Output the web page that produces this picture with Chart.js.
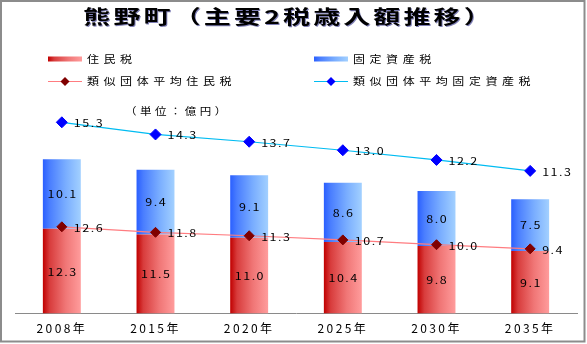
<!DOCTYPE html>
<html lang="ja">
<head>
<meta charset="utf-8">
<title>熊野町（主要2税歳入額推移）</title>
<script src="https://cdn.jsdelivr.net/npm/chart.js@4/dist/chart.umd.min.js"></script>
<style>
  html, body { margin: 0; padding: 0; background: #fff; }
  #wrap { width: 587px; height: 344px; position: relative; }
  canvas { display: block; }
</style>
</head>
<body>
<div id="wrap"><canvas id="c" width="587" height="344"></canvas></div>
<script>
// ---- data ----
const chartTitle = '熊野町（主要2税歳入額推移）';
const unitLabel = '（単位：億円）';
const categories = ['2008年', '2015年', '2020年', '2025年', '2030年', '2035年'];
const seriesNames = ['住民税', '固定資産税', '類似団体平均住民税', '類似団体平均固定資産税'];
const residentTax = [12.3, 11.5, 11.0, 10.4, 9.8, 9.1];
const propertyTax = [10.1, 9.4, 9.1, 8.6, 8.0, 7.5];
const avgResidentTax = [12.6, 11.8, 11.3, 10.7, 10.0, 9.4];
const avgPropertyTax = [15.3, 14.3, 13.7, 13.0, 12.2, 11.3];

// ---- styling ----
const FONT = '"Noto Sans CJK JP", "Noto Sans CJK SC", sans-serif';
const BAR_PCT = 0.405;
const redStops = [[0, '#c00000'], [0.18, '#d83c3c'], [0.6, '#f07676'], [1, '#ff9c9c']];
const blueStops = [[0, '#2a5fff'], [0.18, '#4a7eff'], [0.6, '#79adff'], [1, '#a2d0ff']];
const redLine = '#ff7c80', redMark = '#800000';
const blueLine = '#00bcf2', blueMark = '#0000ff';

function makeGradient(ctx, x0, x1, stops) {
  const g = ctx.createLinearGradient(x0, 0, x1, 0);
  stops.forEach(([o, c]) => g.addColorStop(o, c));
  return g;
}
function barFill(stops) {
  return (c) => {
    const chart = c.chart, xs = chart.scales && chart.scales.x;
    if (!xs || c.dataIndex === undefined || !chart.chartArea) return stops[2][1];
    const cx = xs.getPixelForValue(c.dataIndex);
    const w = xs.width / categories.length * BAR_PCT;
    return makeGradient(chart.ctx, cx - w / 2, cx + w / 2, stops);
  };
}

function txt(ctx, s, x, y, o) {
  const size = o.size || 11, sx = o.sx || 1, ls = o.ls || 0;
  ctx.save();
  ctx.font = (o.weight || 'normal') + ' ' + size + 'px ' + FONT;
  ctx.letterSpacing = ls + 'px';
  ctx.textBaseline = 'middle';
  ctx.textAlign = 'left';
  ctx.fillStyle = o.color || '#000';
  const w = (ctx.measureText(s).width - ls) * sx;
  let left = x;
  if (o.align === 'center') left = x - w / 2;
  else if (o.align === 'right') left = x - w;
  if (o.shadow) {
    ctx.shadowColor = o.shadow; ctx.shadowOffsetX = 1; ctx.shadowOffsetY = 1; ctx.shadowBlur = 0;
  }
  ctx.translate(left, y);
  ctx.scale(sx, 1);
  ctx.fillText(s, 0, 0);
  ctx.restore();
}
function diamond(ctx, x, y, r, color) {
  ctx.save();
  ctx.fillStyle = color;
  ctx.beginPath();
  ctx.moveTo(x, y - r); ctx.lineTo(x + r, y); ctx.lineTo(x, y + r); ctx.lineTo(x - r, y);
  ctx.closePath(); ctx.fill();
  ctx.restore();
}

const decorPlugin = {
  id: 'decor',
  beforeDraw(chart) {
    chart.ctx.letterSpacing = '2.4px';
  },
  afterDatasetsDraw(chart) {
    const ctx = chart.ctx;
    // bar segment labels
    [0, 1].forEach(di => {
      const meta = chart.getDatasetMeta(di);
      const vals = chart.data.datasets[di].data;
      meta.data.forEach((el, i) => {
        const p = el.getProps(['x', 'y', 'base'], true);
        txt(ctx, vals[i].toFixed(1), p.x, (p.y + p.base) / 2 + 0.5, { size: 10, sx: 1.25, ls: 1.2, align: 'center' });
      });
    });
    // line point labels
    [2, 3].forEach(di => {
      const meta = chart.getDatasetMeta(di);
      const vals = chart.data.datasets[di].data;
      meta.data.forEach((el, i) => {
        const p = el.getProps(['x', 'y'], true);
        txt(ctx, vals[i].toFixed(1), p.x + 12, p.y + 1, { size: 10, sx: 1.25, ls: 1.2 });
      });
    });
  },
  afterDraw(chart) {
    const ctx = chart.ctx;
    ctx.letterSpacing = '0px';
    // title
    txt(ctx, chartTitle, 287, 17, { size: 19, weight: 'bold', sx: 1.42, ls: 2.2, align: 'center', shadow: 'rgba(20,20,120,0.55)' });
    // legend
    const ds = chart.data.datasets;
    const rows = [59, 81.5];
    const cols = [48, 314];
    // bar swatches
    ctx.fillStyle = makeGradient(ctx, cols[0], cols[0] + 34, redStops);
    ctx.fillRect(cols[0], rows[0] - 2.5, 34, 5);
    ctx.fillStyle = makeGradient(ctx, cols[1], cols[1] + 34, blueStops);
    ctx.fillRect(cols[1], rows[0] - 2.5, 34, 5);
    txt(ctx, ds[0].label, cols[0] + 39, rows[0], { size: 10, sx: 1.2, ls: 3.8 });
    txt(ctx, ds[1].label, cols[1] + 39, rows[0], { size: 10, sx: 1.2, ls: 3.8 });
    // line swatches
    [[cols[0], redLine, redMark, ds[2].label], [cols[1], blueLine, blueMark, ds[3].label]].forEach(([x, lc, mc, lab]) => {
      ctx.save();
      ctx.strokeStyle = lc; ctx.lineWidth = 1.2;
      ctx.beginPath(); ctx.moveTo(x, rows[1]); ctx.lineTo(x + 34, rows[1]); ctx.stroke();
      ctx.restore();
      diamond(ctx, x + 17, rows[1], 4.5, mc);
      txt(ctx, lab, x + 39, rows[1], { size: 10, sx: 1.2, ls: 3.8 });
    });
    // unit
    txt(ctx, unitLabel, 125, 111, { size: 10, sx: 1.15, ls: 3 });
    // frame
    ctx.save();
    ctx.strokeStyle = '#8c8c8c'; ctx.lineWidth = 2;
    ctx.strokeRect(1, 1, 583.5, 340.5);
    ctx.restore();
  }
};

Chart.defaults.font.family = FONT;
Chart.defaults.color = '#000';

new Chart(document.getElementById('c'), {
  type: 'bar',
  data: {
    labels: categories,
    datasets: [
      { type: 'bar', label: seriesNames[0], data: residentTax, backgroundColor: barFill(redStops),
        stack: 'tax', yAxisID: 'y', order: 1, barPercentage: BAR_PCT, categoryPercentage: 1, borderWidth: 0 },
      { type: 'bar', label: seriesNames[1], data: propertyTax, backgroundColor: barFill(blueStops),
        stack: 'tax', yAxisID: 'y', order: 1, barPercentage: BAR_PCT, categoryPercentage: 1, borderWidth: 0 },
      { type: 'line', label: seriesNames[2], data: avgResidentTax, borderColor: redLine, borderWidth: 1.2,
        pointStyle: 'rectRot', pointRadius: 5, pointBackgroundColor: redMark, pointBorderColor: redMark, pointBorderWidth: 1,
        tension: 0, fill: false, stack: 'avg1', yAxisID: 'y', order: 0 },
      { type: 'line', label: seriesNames[3], data: avgPropertyTax, borderColor: blueLine, borderWidth: 1.2,
        pointStyle: 'rectRot', pointRadius: 5.5, pointBackgroundColor: blueMark, pointBorderColor: blueMark, pointBorderWidth: 1,
        tension: 0, fill: false, stack: 'avg2', yAxisID: 'y2', order: 0 }
    ]
  },
  options: {
    responsive: false,
    animation: false,
    layout: { padding: { left: 15, right: 10, top: 72.5, bottom: 1 } },
    plugins: { legend: { display: false }, title: { display: false }, tooltip: { enabled: false } },
    scales: {
      x: {
        stacked: true,
        grid: { display: false, drawTicks: false, tickLength: 0 },
        border: { display: true, color: '#8a8a8a', width: 1 },
        ticks: { color: '#000', padding: 7.5, font: { size: 12 }, maxRotation: 0 }
      },
      y: { stacked: true, display: false, min: 0, max: 35 },
      y2: { display: false, min: -0.45, max: 19.4 }
    }
  },
  plugins: [decorPlugin]
});
</script>
</body>
</html>
